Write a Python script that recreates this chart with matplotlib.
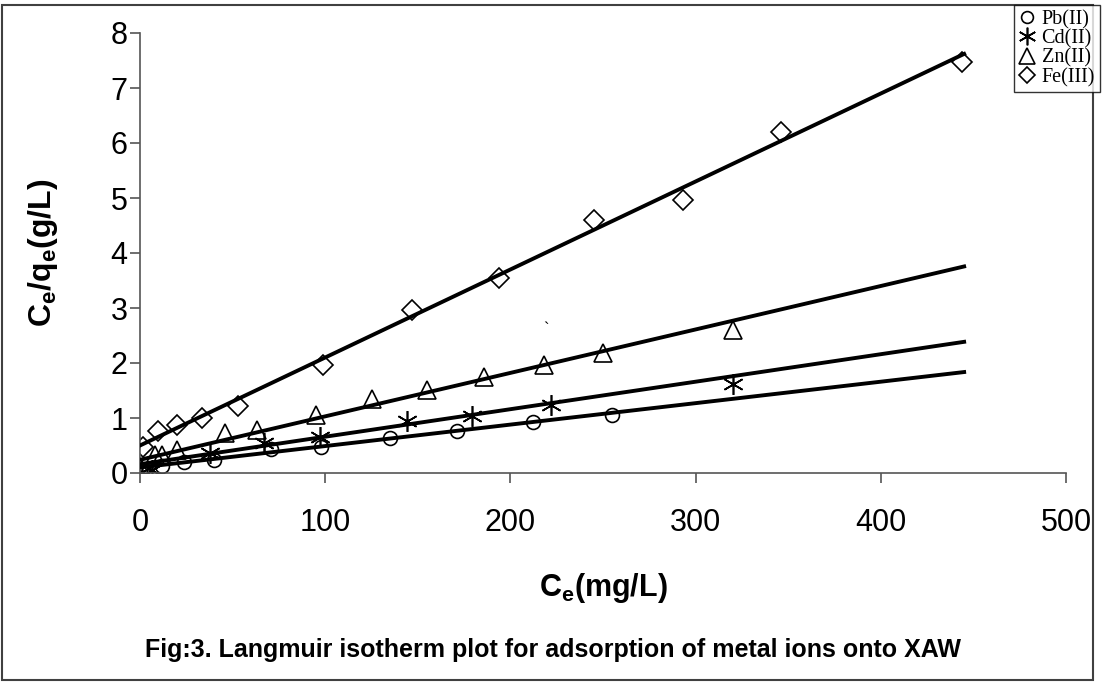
import matplotlib
matplotlib.use("Agg")
import matplotlib.pyplot as plt
from matplotlib.patches import Rectangle
import numpy as np

# Langmuir data
pb_ce = [1, 12, 24, 40, 71, 98, 135, 171, 212, 255]
pb_ratio = [0.02, 0.12, 0.20, 0.24, 0.43, 0.48, 0.64, 0.76, 0.92, 1.06]

cd_ce = [1, 6.5, 38, 67, 97, 144, 179, 222, 320]
cd_ratio = [0.02, 0.06, 0.37, 0.55, 0.66, 0.94, 1.04, 1.23, 1.62]

zn_ce = [1, 8, 12, 20, 46, 63, 95, 125, 155, 186, 218, 250, 320]
zn_ratio = [0.05, 0.33, 0.33, 0.42, 0.72, 0.78, 1.06, 1.35, 1.51, 1.74, 1.96, 2.18, 2.60]

fe_ce = [1.6, 9.7, 20, 33.5, 53, 99, 147, 194, 245, 293, 346, 444]
fe_ratio = [0.47, 0.77, 0.87, 1.00, 1.22, 1.97, 2.96, 3.55, 4.60, 4.96, 6.20, 7.47]

labels = ["Pb(II)", "Cd(II)", "Zn(II)", "Fe(III)"]
# trend lines (intercept, slope) as drawn in the figure
fit_intercept = [0.10, 0.16, 0.24, 0.50]
fit_slope = [0.0039, 0.0050, 0.0079, 0.0160]
fit_range = [0, 445]

xticks = [0, 100, 200, 300, 400, 500]
yticks = [0, 1, 2, 3, 4, 5, 6, 7, 8]

sans = ["Liberation Sans", "DejaVu Sans"]
plt.rcParams["font.family"] = sans
plt.rcParams["mathtext.fontset"] = "custom"
plt.rcParams["mathtext.rm"] = "Liberation Sans"
plt.rcParams["mathtext.bf"] = "Liberation Sans:bold"

fig = plt.figure(figsize=(11.04, 6.83), dpi=100)
ax = fig.add_axes([140 / 1104, 1 - 473 / 683, (1066 - 140) / 1104, (473 - 33) / 683])

series = [(pb_ce, pb_ratio), (cd_ce, cd_ratio), (zn_ce, zn_ratio), (fe_ce, fe_ratio)]
markers = ["o", (6, 2, 0), "^", "D"]
sizes = [10, 15, 13, 10]

handles = []
for (xs, ys), m, s, lab in zip(series, markers, sizes, labels):
    h, = ax.plot(xs, ys, linestyle="none", marker=m, markersize=s,
                 markerfacecolor="none", markeredgecolor="black",
                 markeredgewidth=1.2, label=lab, zorder=2)
    handles.append(h)

xr = np.array(fit_range)
for b, k in zip(fit_intercept, fit_slope):
    ax.plot(xr, b + k * xr, color="black", linewidth=2.8, zorder=3)

# small stray mark present in the original figure
ax.text(219, 2.6, "`", fontsize=12, ha="center", va="center")

ax.set_xlim(0, 500)
ax.set_ylim(0, 8)
ax.set_xticks(xticks)
ax.set_yticks(yticks)
for sp in ["top", "right"]:
    ax.spines[sp].set_visible(False)
for sp in ["left", "bottom"]:
    ax.spines[sp].set_color("#555555")
    ax.spines[sp].set_linewidth(1.2)
ax.tick_params(direction="out", length=7, width=1.2, color="#555555",
               labelsize=22)
ax.tick_params(axis="x", pad=18)
ax.tick_params(axis="y", pad=2)

ax.set_xlabel(r"$\mathbf{C_e(mg/L)}$", fontsize=22, labelpad=24)
ax.set_ylabel(r"$\mathbf{C_e/q_e(g/L)}$", fontsize=23, labelpad=36)

fig.text(553 / 1104, 1 - 650 / 683,
         "Fig:3. Langmuir isotherm plot for adsorption of metal ions onto XAW",
         ha="center", va="center", fontsize=18, fontweight="bold")

leg = fig.legend(handles=handles, loc="upper right",
                 bbox_to_anchor=(1100 / 1104, 1 - 5 / 683),
                 prop={"family": ["Liberation Serif", "DejaVu Serif"], "size": 14.5},
                 frameon=True, fancybox=False, edgecolor="black",
                 handlelength=0.8, handletextpad=0.3, labelspacing=0.0,
                 borderpad=0.25, borderaxespad=0, markerscale=0.85)
leg.get_frame().set_linewidth(1.0)

fig.patches.append(Rectangle((2 / 1104, 3 / 683), 1091 / 1104, 675 / 683,
                             transform=fig.transFigure, fill=False,
                             edgecolor="#404040", linewidth=1.5, zorder=0))

fig.savefig("out.png", dpi=100)
